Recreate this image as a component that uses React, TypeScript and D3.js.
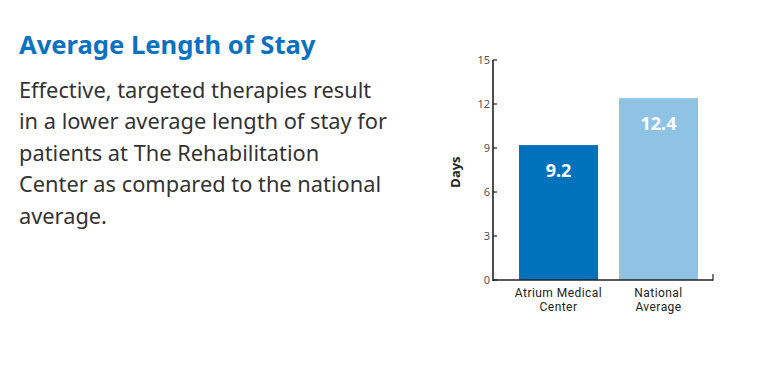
import React from "react";
import * as d3 from "d3";

const categories: string[][] = [["Atrium Medical", "Center"], ["National", "Average"]];
const values: number[] = [9.2, 12.4];
const valueLabels: string[] = ["9.2", "12.4"];
const colors: string[] = ["#0072bc", "#8ec3e4"];
const yTicks: number[] = [0, 3, 6, 9, 12, 15];
const title = "Average Length of Stay";
const bodyLines: string[] = [
  "Effective, targeted therapies result",
  "in a lower average length of stay for",
  "patients at The Rehabilitation",
  "Center as compared to the national",
  "average.",
];

const W = 760;
const H = 378;
const FONT = "'Noto Sans', 'Open Sans', sans-serif";

export default function App() {
  const x0 = 493;
  const x1 = 713;
  const y = d3.scaleLinear().domain([0, 15]).range([280, 60]);
  const x = d3
    .scaleBand<number>()
    .domain([0, 1])
    .range([509, 708])
    .paddingInner(0.21)
    .paddingOuter(0.1);

  return (
    <svg
      width={W}
      height={H}
      style={{ position: "absolute", left: 0, top: 0, background: "#fff" }}
      fontFamily={FONT}
    >
      <text x={19} y={54} fontSize={25.6} fontWeight={700} fill="#0a72c0">
        {title}
      </text>
      {bodyLines.map((l, i) => (
        <text key={i} x={19} y={97.5 + i * 31.5} fontSize={21.8} fill="#333">
          {l}
        </text>
      ))}

      {values.map((v, i) => (
        <g key={i}>
          <rect
            x={x(i)!}
            y={y(v)}
            width={x.bandwidth()}
            height={y(0) - y(v)}
            fill={colors[i]}
          />
          <text
            x={x(i)! + x.bandwidth() / 2}
            y={y(v) + 31.5}
            textAnchor="middle"
            fontSize={18}
            fontWeight={700}
            fill="#fff"
          >
            {valueLabels[i]}
          </text>
          {categories[i].map((c, j) => (
            <text
              key={j}
              x={x(i)! + x.bandwidth() / 2}
              y={296.5 + j * 14.3}
              textAnchor="middle"
              fontFamily="Roboto, sans-serif"
              fontSize={12}
              letterSpacing={0.45}
              fill="#222"
            >
              {c}
            </text>
          ))}
        </g>
      ))}

      <line x1={x0} x2={x0} y1={y(15)} y2={y(0) + 1} stroke="#222" strokeWidth={1.6} />
      <line x1={x0} x2={x1} y1={y(0)} y2={y(0)} stroke="#222" strokeWidth={1.6} />
      <line x1={x1} x2={x1} y1={y(0) + 0.8} y2={y(0) - 6} stroke="#222" strokeWidth={1.2} />
      {yTicks.map((t) => (
        <g key={t}>
          <line x1={x0} x2={x0 + 4} y1={y(t)} y2={y(t)} stroke="#222" strokeWidth={1.2} />
          <text
            x={x0 - 3}
            y={y(t)}
            dy="0.35em"
            textAnchor="end"
            fontSize={11}
            fill="#555"
          >
            {t}
          </text>
        </g>
      ))}
      <text
        transform={`translate(460,172) rotate(-90)`}
        textAnchor="middle"
        fontSize={13}
        fontWeight={700}
        fill="#222"
      >
        Days
      </text>
    </svg>
  );
}
